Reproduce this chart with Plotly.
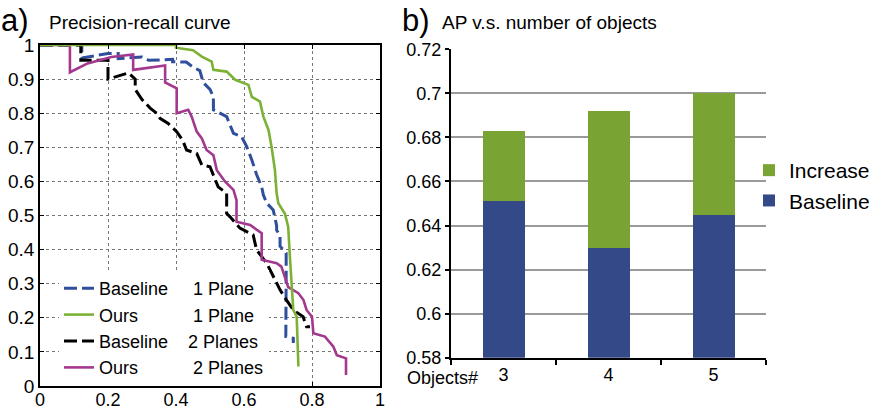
import plotly.graph_objects as go

FONT = "Liberation Sans, Arial, Helvetica, sans-serif"

# ---------- panel a) precision-recall curves ----------
base1_recall = [0.0, 0.123, 0.123, 0.2, 0.23, 0.23, 0.3, 0.32, 0.39, 0.39, 0.43, 0.45, 0.47, 0.48,
                0.5, 0.51, 0.51, 0.549, 0.569, 0.593, 0.608, 0.623, 0.637, 0.652, 0.657, 0.667,
                0.686, 0.696, 0.696, 0.706, 0.706, 0.724, 0.724, 0.723, 0.745, 0.745]
base1_prec = [1.0, 1.0, 0.962, 0.975, 0.975, 0.96, 0.965, 0.955, 0.958, 0.951, 0.95, 0.935, 0.925, 0.89,
              0.87, 0.848, 0.81, 0.79, 0.741, 0.731, 0.702, 0.663, 0.62, 0.584, 0.56, 0.536,
              0.516, 0.47, 0.457, 0.44, 0.41, 0.39, 0.32, 0.145, 0.14, 0.126]

ours1_recall = [0.0, 0.4, 0.4, 0.45, 0.476, 0.505, 0.51, 0.549, 0.574, 0.613, 0.623, 0.647, 0.657,
                0.672, 0.681, 0.691, 0.696, 0.701, 0.72, 0.73, 0.735, 0.74, 0.745, 0.755, 0.76]
ours1_prec = [1.0, 1.0, 0.992, 0.985, 0.966, 0.951, 0.927, 0.922, 0.898, 0.883, 0.848, 0.834, 0.79,
              0.751, 0.702, 0.633, 0.565, 0.536, 0.506, 0.467, 0.379, 0.301, 0.223, 0.203, 0.057]

base2_recall = [0.0, 0.12, 0.12, 0.2, 0.2, 0.26, 0.28, 0.28, 0.3, 0.324, 0.343, 0.353, 0.377, 0.402,
                0.42, 0.431, 0.461, 0.476, 0.5, 0.524, 0.549, 0.549, 0.559, 0.588, 0.627, 0.637,
                0.667, 0.686, 0.706, 0.725, 0.745, 0.774, 0.784, 0.794]
base2_prec = [1.0, 1.0, 0.955, 0.955, 0.9, 0.918, 0.9, 0.87, 0.84, 0.815, 0.8, 0.785, 0.77, 0.746,
              0.72, 0.692, 0.682, 0.648, 0.643, 0.584, 0.565, 0.506, 0.496, 0.463, 0.443, 0.399,
              0.36, 0.32, 0.282, 0.252, 0.223, 0.203, 0.174, 0.174]

ours2_recall = [0.0, 0.088, 0.088, 0.14, 0.21, 0.274, 0.274, 0.363, 0.368, 0.368, 0.382, 0.402, 0.402,
                0.436, 0.446, 0.461, 0.476, 0.49, 0.51, 0.52, 0.544, 0.569, 0.578, 0.578, 0.618,
                0.652, 0.652, 0.696, 0.71, 0.73, 0.76, 0.775, 0.784, 0.8, 0.804, 0.838, 0.863,
                0.873, 0.9, 0.9]
ours2_prec = [1.0, 1.0, 0.92, 0.946, 0.965, 0.972, 0.927, 0.94, 0.94, 0.89, 0.883, 0.873, 0.80,
              0.81, 0.79, 0.746, 0.726, 0.692, 0.677, 0.633, 0.6, 0.575, 0.545, 0.482, 0.472,
              0.448, 0.37, 0.36, 0.35, 0.29, 0.272, 0.252, 0.223, 0.203, 0.155, 0.145, 0.115,
              0.09, 0.081, 0.032]

pr_names = ["Baseline" + "\u00a0" * 5 + "1 Plane",
            "Ours" + "\u00a0" * 11 + "1 Plane",
            "Baseline" + "\u00a0" * 4 + "2 Planes",
            "Ours" + "\u00a0" * 11 + "2 Planes"]
pr_colors = ["#2F4E9B", "#7BB236", "#000000", "#A3388F"]

# ---------- panel b) AP vs number of objects ----------
objects = ["3", "4", "5"]
ap_baseline = [0.651, 0.630, 0.645]
ap_increase = [0.032, 0.062, 0.055]
bar_colors = ["#344987", "#79A433"]

fig = go.Figure()

# draw order: blue, black, magenta, green (green on top); legend order via legendrank
fig.add_trace(go.Scatter(x=base1_recall, y=base1_prec, mode="lines", name=pr_names[0],
                         line=dict(color=pr_colors[0], width=3, dash="13px,5px"),
                         legendrank=1, xaxis="x", yaxis="y"))
fig.add_trace(go.Scatter(x=base2_recall, y=base2_prec, mode="lines", name=pr_names[2],
                         line=dict(color=pr_colors[2], width=3, dash="13px,5px"),
                         legendrank=3, xaxis="x", yaxis="y"))
fig.add_trace(go.Scatter(x=ours2_recall, y=ours2_prec, mode="lines", name=pr_names[3],
                         line=dict(color=pr_colors[3], width=2.6),
                         legendrank=4, xaxis="x", yaxis="y"))
fig.add_trace(go.Scatter(x=ours1_recall, y=ours1_prec, mode="lines", name=pr_names[1],
                         line=dict(color=pr_colors[1], width=2.6),
                         legendrank=2, xaxis="x", yaxis="y"))

fig.add_trace(go.Bar(x=objects, y=ap_baseline, name="Baseline", marker_color=bar_colors[0],
                     marker_line_width=0, legend="legend2", legendrank=2,
                     xaxis="x2", yaxis="y2"))
fig.add_trace(go.Bar(x=objects, y=ap_increase, name="Increase", marker_color=bar_colors[1],
                     marker_line_width=0, legend="legend2", legendrank=1,
                     xaxis="x2", yaxis="y2"))

W, H = 879, 409
def px_x(p): return p / W
def px_y(p): return 1 - p / H

fig.update_layout(
    width=W, height=H,
    margin=dict(l=0, r=0, t=0, b=0, autoexpand=False),
    paper_bgcolor="white", plot_bgcolor="white",
    font=dict(family=FONT, color="black", size=18),
    barmode="stack", bargap=0.6,
    xaxis=dict(domain=[px_x(40), px_x(380)], range=[0, 1], dtick=0.2, tick0=0,
               showline=True, linecolor="black", linewidth=1.5, mirror="ticks",
               ticks="inside", ticklen=4, tickcolor="black",
               showgrid=True, gridcolor="#777777", griddash="dot", gridwidth=1,
               zeroline=False, tickfont=dict(size=18), anchor="y", automargin=False,
               ticklabelstandoff=-3),
    yaxis=dict(domain=[px_y(386), px_y(45)], range=[0, 1], dtick=0.1, tick0=0,
               showline=True, linecolor="black", linewidth=1.5, mirror="ticks",
               ticks="inside", ticklen=4, tickcolor="black",
               showgrid=True, gridcolor="#777777", griddash="dot", gridwidth=1,
               zeroline=False, tickfont=dict(size=19), anchor="x", automargin=False),
    xaxis2=dict(domain=[px_x(451), px_x(766)], type="category", anchor="y2",
                showline=True, linecolor="black", linewidth=2,
                ticks="outside", tickson="boundaries", ticklen=5, tickwidth=2, tickcolor="black",
                showgrid=False, tickfont=dict(size=18), automargin=False),
    yaxis2=dict(domain=[px_y(357.7), px_y(49.3)], range=[0.58, 0.72], dtick=0.02, tick0=0.58,
                anchor="x2", showline=True, linecolor="black", linewidth=2,
                ticks="outside", ticklen=4, tickwidth=2, tickcolor="black",
                showgrid=True, gridcolor="#9a9a9a", gridwidth=2, zeroline=False,
                tickfont=dict(size=18), automargin=False),
    legend=dict(x=px_x(59), y=px_y(270), xanchor="left", yanchor="top",
                bgcolor="white", borderwidth=0, font=dict(size=18),
                traceorder="normal", tracegroupgap=0),
    legend2=dict(x=px_x(749), y=px_y(150), xanchor="left", yanchor="top",
                 bgcolor="rgba(0,0,0,0)", borderwidth=0, font=dict(size=21),
                 traceorder="normal"),
    showlegend=True,
)

fig.add_annotation(text="a)", x=px_x(-1), y=px_y(20), xref="paper", yref="paper",
                   xanchor="left", yanchor="middle", showarrow=False, font=dict(size=31))
fig.add_annotation(text="Precision-recall curve", x=px_x(47), y=px_y(22), xref="paper", yref="paper",
                   xanchor="left", yanchor="middle", showarrow=False, font=dict(size=19))
fig.add_annotation(text="b)", x=px_x(400), y=px_y(20), xref="paper", yref="paper",
                   xanchor="left", yanchor="middle", showarrow=False, font=dict(size=31))
fig.add_annotation(text="AP v.s. number of objects", x=px_x(440), y=px_y(23), xref="paper", yref="paper",
                   xanchor="left", yanchor="middle", showarrow=False, font=dict(size=19))
fig.add_annotation(text="Objects#", x=px_x(405), y=px_y(378), xref="paper", yref="paper",
                   xanchor="left", yanchor="middle", showarrow=False, font=dict(size=18))

fig.write_html("out.html", config={"displayModeBar": False},
               post_script="document.body.style.margin='0';document.body.style.padding='0';")
